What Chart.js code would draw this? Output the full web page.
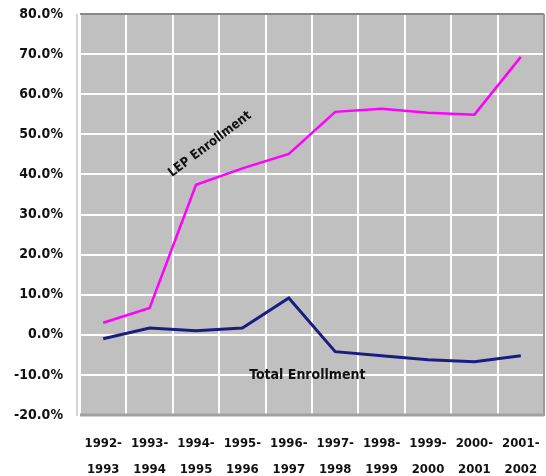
<!DOCTYPE html>
<html>
<head>
<meta charset="utf-8">
<script src="https://cdn.jsdelivr.net/npm/chart.js@4/dist/chart.umd.min.js"></script>
<style>
html,body{margin:0;padding:0;background:#fff;}
#wrap{width:546px;height:476px;position:relative;}
</style>
</head>
<body>
<div id="wrap"><canvas id="c" width="546" height="476"></canvas></div>
<script>
const categories = [
  ['1992-','1993'],['1993-','1994'],['1994-','1995'],['1995-','1996'],['1996-','1997'],
  ['1997-','1998'],['1998-','1999'],['1999-','2000'],['2000-','2001'],['2001-','2002']
];
const lepEnrollment = [3.0, 6.7, 37.4, 41.5, 45.1, 55.6, 56.4, 55.4, 54.9, 69.3];
const totalEnrollment = [-1.0, 1.7, 1.0, 1.7, 9.2, -4.2, -5.2, -6.2, -6.7, -5.2];
const yMin = -20, yMax = 80, yStep = 10;

const FONT = '"Liberation Sans Narrow", "DejaVu Sans Condensed", "Liberation Sans", sans-serif';

const areaPlugin = {
  id: 'area',
  beforeDraw(chart) {
    const {ctx, chartArea: a} = chart;
    ctx.save();
    ctx.fillStyle = '#c0c0c0';
    ctx.fillRect(a.left, a.top, a.right - a.left, a.bottom - a.top);
    ctx.restore();
  },
  afterDraw(chart) {
    const {ctx, chartArea: a} = chart;
    ctx.save();
    ctx.strokeStyle = '#d4d4d4';
    ctx.lineWidth = 2;
    ctx.beginPath();
    ctx.moveTo(a.left - 3, a.top);
    ctx.lineTo(a.left - 3, a.bottom + 1);
    ctx.stroke();
    ctx.strokeStyle = '#888888';
    ctx.lineWidth = 2;
    ctx.beginPath();
    ctx.moveTo(a.left, a.top);
    ctx.lineTo(a.right, a.top);
    ctx.stroke();
    ctx.strokeStyle = '#999999';
    ctx.beginPath();
    ctx.moveTo(a.right, a.top);
    ctx.lineTo(a.right, a.bottom + 1);
    ctx.stroke();
    ctx.strokeStyle = '#a0a0a0';
    ctx.lineWidth = 3;
    ctx.beginPath();
    ctx.moveTo(a.left, a.bottom);
    ctx.lineTo(a.right, a.bottom);
    ctx.stroke();
    ctx.restore();
  },
  afterDatasetsDraw(chart) {
    const {ctx, scales: {x, y}} = chart;
    ctx.save();
    ctx.fillStyle = '#111';
    ctx.textAlign = 'center';
    ctx.textBaseline = 'middle';
    ctx.font = 'bold 13px ' + FONT;
    const lx = x.getPixelForValue(2.3), ly = y.getPixelForValue(47.5);
    ctx.save();
    ctx.translate(lx, ly);
    ctx.rotate(-37 * Math.PI / 180);
    ctx.fillText('LEP Enrollment', 0, 0);
    ctx.restore();
    ctx.font = 'bold 14px ' + FONT;
    const tx = x.getPixelForValue(4.4), ty = y.getPixelForValue(-10);
    ctx.fillText('Total Enrollment', tx, ty);
    ctx.restore();
  }
};

new Chart(document.getElementById('c'), {
  type: 'line',
  data: {
    labels: categories,
    datasets: [
      { label: 'LEP Enrollment', data: lepEnrollment, borderColor: '#ff00ff', borderWidth: 2.5, pointRadius: 0, tension: 0, fill: false },
      { label: 'Total Enrollment', data: totalEnrollment, borderColor: '#1c1c80', borderWidth: 3, pointRadius: 0, tension: 0, fill: false }
    ]
  },
  options: {
    responsive: false,
    animation: false,
    devicePixelRatio: 1,
    layout: { padding: { top: 14, right: 2, left: 0, bottom: 0 } },
    plugins: { legend: { display: false }, tooltip: { enabled: false } },
    scales: {
      x: {
        type: 'category',
        offset: true,
        grid: { offset: true, color: '#ffffff', lineWidth: 2, drawTicks: false },
        border: { display: false },
        ticks: {
          color: '#111', maxRotation: 0, autoSkip: false, padding: 16,
          font: { family: FONT, size: 13, weight: 'bold', lineHeight: 2.0 }
        },
        afterFit(s) { s.height = 61; s.paddingLeft = 0; s.paddingRight = 0; }
      },
      y: {
        min: yMin, max: yMax,
        grid: { color: '#ffffff', lineWidth: 2, drawTicks: false },
        border: { display: false },
        ticks: {
          stepSize: yStep, color: '#111', padding: 17,
          font: { family: FONT, size: 14, weight: 'bold' },
          callback: v => v.toFixed(1) + '%'
        },
        afterFit(s) { s.width = 80; s.paddingTop = 0; s.paddingBottom = 0; }
      }
    }
  },
  plugins: [areaPlugin]
});
</script>
</body>
</html>
